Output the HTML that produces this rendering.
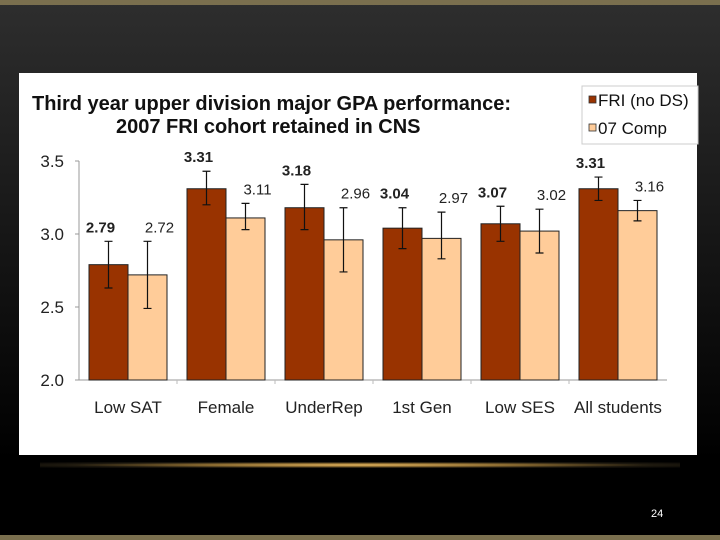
<!DOCTYPE html>
<html><head><meta charset="utf-8"><style>
body{margin:0;width:720px;height:540px;overflow:hidden;font-family:"Liberation Sans",sans-serif;
background:linear-gradient(#2e2e2e 0px,#1a1a1a 200px,#000 460px);position:relative}
</style></head><body>
<div style="position:absolute;left:0;top:0;width:720px;height:5px;background:#7a6f4e"></div>
<div style="position:absolute;left:0;top:535px;width:720px;height:5px;background:#7a6f4e"></div>
<div style="position:absolute;left:40px;top:462px;width:640px;height:6px;background:radial-gradient(ellipse at center,#e8b860 0%,#8a6a30 35%,rgba(60,50,30,0.5) 65%,rgba(0,0,0,0) 100%)"></div>
<div style="position:absolute;left:651px;top:508px;color:#fff;font-size:11px">24</div>
<svg style="position:absolute;left:0;top:0" width="720" height="540" id="c"></svg>
<script>
const categories=["Low SAT","Female","UnderRep","1st Gen","Low SES","All students"];
const friValues=[2.79,3.31,3.18,3.04,3.07,3.31];
const compValues=[2.72,3.11,2.96,2.97,3.02,3.16];
const friLow=[2.63,3.20,3.03,2.90,2.95,3.23];
const friHigh=[2.95,3.43,3.34,3.18,3.19,3.39];
const compLow=[2.49,3.03,2.74,2.83,2.87,3.09];
const compHigh=[2.95,3.21,3.18,3.15,3.17,3.23];
const yTicks=[2.0,2.5,3.0,3.5];
const NS="http://www.w3.org/2000/svg";
const svg=document.getElementById('c');
function mk(t,a,txt){const e=document.createElementNS(NS,t);for(const k in a)e.setAttribute(k,a[k]);if(txt!=null)e.textContent=txt;svg.appendChild(e);return e;}
const x0=79,x1=667,gw=(x1-x0)/categories.length,bw=39;
const y=v=>380-(v-2)*146;
let e;
e=mk('rect',{x:19,y:73,width:678,height:382,fill:'#fff'});


e=mk('text',{x:32,y:110,'font-size':20,'font-weight':'bold',fill:'#111'},'Third year upper division major GPA performance:');


e=mk('text',{x:116,y:133,'font-size':20,'font-weight':'bold',fill:'#111'},'2007 FRI cohort retained in CNS');


e=mk('rect',{x:582,y:86,width:116,height:58,fill:'#fff',stroke:'#ccc'});


[['#993300','FRI (no DS)',104],['#ffcc99','07 Comp',132]].forEach((l,i)=>{
 let r=mk('rect',{x:589,y:l[2]-8,width:7,height:7,fill:l[0],stroke:'#333','stroke-width':0.8});
 
 
 let t=mk('text',{x:598,y:l[2]+2,'font-size':17,fill:'#111'},l[1]);
 
 
});
e=mk('line',{x1:x0,y1:y(3.5),x2:x0,y2:380,stroke:'#999'});


e=mk('line',{x1:x0,y1:380,x2:x1,y2:380,stroke:'#999'});


yTicks.forEach(v=>{
 let l=mk('line',{x1:x0-4,y1:y(v),x2:x0,y2:y(v),stroke:'#999'});
 
 
 let t=mk('text',{x:64,y:y(v)+6,'font-size':17,'text-anchor':'end',fill:'#222'},v.toFixed(1));
 
 
});
categories.forEach((c,i)=>{
 const cx=x0+gw*i+gw/2;
 if(i>0){let l=mk('line',{x1:x0+gw*i,y1:380,x2:x0+gw*i,y2:384,stroke:'#bbb'});
 
 }
 [[friValues,friLow,friHigh,'#993300',cx-bw,'bold','fri'],[compValues,compLow,compHigh,'#ffcc99',cx,'normal','comp']].forEach(s=>{
  const v=s[0][i],bx=s[4];
  let r=mk('rect',{x:bx,y:y(v),width:bw,height:380-y(v),fill:s[3],stroke:'#222','stroke-width':1});
  
  
  const ex=bx+bw/2;
  let eb=mk('path',{d:`M${ex},${y(s[1][i])}V${y(s[2][i])}M${ex-4},${y(s[1][i])}H${ex+4}M${ex-4},${y(s[2][i])}H${ex+4}`,stroke:'#111','stroke-width':1.2,fill:'none'});
  
  
  let tx=s[6]=='fri'?ex-8:ex+12;
  let t=mk('text',{x:tx,y:y(s[2][i])-9,'font-size':15,'font-weight':s[5],'text-anchor':'middle',fill:'#222'},v.toFixed(2));
  
  
 });
 let t=mk('text',{x:cx,y:413,'font-size':17,'text-anchor':'middle',fill:'#222'},c);
 
 
});
</script>
</body></html>
